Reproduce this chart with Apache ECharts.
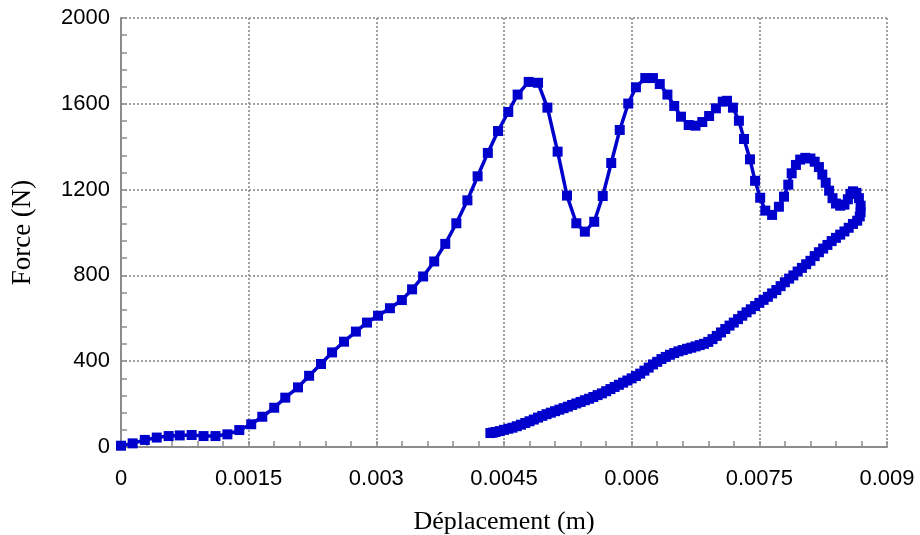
<!DOCTYPE html>
<html>
<head>
<meta charset="utf-8">
<script src="https://cdn.jsdelivr.net/npm/echarts@6/dist/echarts.min.js"></script>
<style>
html,body{margin:0;padding:0;background:#fff;}
#chart{width:920px;height:535px;}
</style>
</head>
<body>
<div id="chart"></div>
<script>
// Displacement (m) values, in drawing order
var displacement = [
  0, 0.000137, 0.00028, 0.00042, 0.00056, 0.00069, 0.00083, 0.00097, 0.00111, 0.00125,
  0.00139, 0.00153, 0.00166, 0.0018, 0.00193, 0.00208, 0.00221, 0.00235, 0.00248, 0.00262,
  0.00276, 0.00289, 0.00302, 0.00316, 0.0033, 0.00342, 0.00355, 0.00368, 0.00381, 0.00394,
  0.00407, 0.00419, 0.00431, 0.00443, 0.00455, 0.00466, 0.00479, 0.0049, 0.00501, 0.00513,
  0.00524, 0.00535, 0.00545, 0.00556, 0.00566, 0.00576, 0.00586, 0.00596, 0.00605, 0.00616,
  0.00625, 0.00633, 0.00642, 0.0065, 0.00658, 0.00667, 0.00675, 0.00683, 0.00691, 0.00699,
  0.00707, 0.00712, 0.00719, 0.00726, 0.00732, 0.00739, 0.00745, 0.00751, 0.00757, 0.00765,
  0.00773, 0.00779, 0.00784, 0.00788, 0.00793, 0.00798, 0.00804, 0.0081, 0.00815, 0.0082,
  0.00824, 0.00828, 0.00832, 0.00836, 0.0084, 0.00845, 0.0085, 0.00854, 0.00857, 0.0086,
  0.00864, 0.00867, 0.00869, 0.00869, 0.00868,
  0.00865, 0.0086, 0.00855, 0.0085, 0.00845, 0.0084, 0.00835, 0.0083, 0.00825, 0.0082,
  0.00815, 0.0081, 0.00805, 0.008, 0.00795, 0.0079, 0.00785, 0.0078, 0.00775, 0.0077,
  0.00765, 0.0076, 0.00755, 0.0075, 0.00745, 0.0074, 0.00735, 0.0073, 0.00725, 0.0072,
  0.00715, 0.0071, 0.00705, 0.007, 0.00695, 0.0069, 0.00685, 0.0068, 0.00675, 0.0067,
  0.00665, 0.0066, 0.00655, 0.0065, 0.00645, 0.0064, 0.00635, 0.0063, 0.00625, 0.0062,
  0.00615, 0.0061, 0.00605, 0.006, 0.00595, 0.0059, 0.00585, 0.0058, 0.00575, 0.0057,
  0.00565, 0.0056, 0.00555, 0.0055, 0.00545, 0.0054, 0.00535, 0.0053, 0.00525, 0.0052,
  0.00515, 0.0051, 0.00505, 0.005, 0.00495, 0.0049, 0.00485, 0.0048, 0.00475, 0.0047,
  0.00465, 0.0046, 0.00455, 0.0045, 0.00445, 0.0044, 0.00437, 0.00434
];
// Force (N) values, same order
var force = [
  6, 17, 33, 44, 51, 54, 56, 51, 51, 59,
  79, 106, 141, 183, 230, 278, 332, 387, 441, 491,
  538, 580, 612, 647, 685, 735, 795, 865, 947, 1043,
  1150, 1262, 1371, 1473, 1562, 1643, 1702, 1698, 1582, 1377,
  1172, 1043, 1004, 1050, 1170, 1324, 1478, 1601, 1677, 1720,
  1720, 1692, 1643, 1590, 1540, 1501, 1498, 1515, 1543, 1579,
  1610, 1614, 1582, 1521, 1436, 1341, 1241, 1162, 1102, 1082,
  1120, 1167, 1223, 1276, 1315, 1340, 1348, 1345, 1330, 1305,
  1270, 1232, 1195, 1160, 1135, 1125, 1130, 1155, 1180, 1192,
  1185, 1160, 1125, 1095, 1075,
  1055, 1040, 1022, 1005, 990, 975, 960, 942, 925, 908,
  890, 868, 852, 835, 818, 800, 785, 768, 750, 732,
  716, 700, 686, 672, 657, 642, 628, 612, 596, 580,
  566, 550, 534, 518, 503, 490, 481, 475, 469, 463,
  458, 452, 446, 438, 430, 420, 410, 397, 385, 370,
  356, 342, 331, 320, 310, 300, 290, 280, 270, 260,
  250, 242, 233, 225, 218, 210, 203, 196, 188, 181,
  174, 167, 160, 153, 145, 137, 128, 120, 112, 104,
  97, 90, 85, 80, 74, 70, 67, 65
];
var xTickLabels = ['0', '0.0015', '0.003', '0.0045', '0.006', '0.0075', '0.009'];
var yTickLabels = ['0', '400', '800', '1200', '1600', '2000'];
var xTitle = 'Déplacement (m)';
var yTitle = 'Force (N)';

var points = displacement.map(function (d, i) { return [d, force[i]]; });

var chart = echarts.init(document.getElementById('chart'), null, {renderer: 'canvas'});
var axisCommon = {
  axisLine: {show: true, lineStyle: {color: '#8c8c8c', width: 2}},
  axisTick: {show: true, inside: true, length: 6, lineStyle: {color: '#8c8c8c', width: 1.5}},
  minorTick: {show: true, splitNumber: 5, length: 6, lineStyle: {color: '#8c8c8c', width: 1.5}},
  splitLine: {show: true, lineStyle: {color: '#a0a0a0', type: 'dotted', width: 2}},
  axisLabel: {color: '#000', fontFamily: 'Liberation Sans', fontSize: 22}
};
chart.setOption({
  animation: false,
  backgroundColor: '#fff',
  grid: {left: 121, right: 33, top: 18, bottom: 88, containLabel: false, outerBoundsMode: 'none'},
  xAxis: Object.assign({}, axisCommon, {
    type: 'value', min: 0, max: 0.009, interval: 0.0015,
    name: xTitle, nameLocation: 'middle', nameGap: 62,
    nameTextStyle: {fontFamily: 'Liberation Serif', fontSize: 26, color: '#000'},
    axisLabel: Object.assign({}, axisCommon.axisLabel, {
      margin: 21,
      formatter: function (v) { return xTickLabels[Math.round(v / 0.0015)]; }
    })
  }),
  yAxis: Object.assign({}, axisCommon, {
    type: 'value', min: 0, max: 2000, interval: 400,
    name: yTitle, nameLocation: 'middle', nameGap: 85,
    nameTextStyle: {fontFamily: 'Liberation Serif', fontSize: 27, color: '#000'},
    axisLabel: Object.assign({}, axisCommon.axisLabel, {
      margin: 11,
      formatter: function (v) { return yTickLabels[Math.round(v / 400)]; }
    })
  }),
  series: [{
    type: 'line',
    data: points,
    symbol: 'rect',
    symbolSize: 10,
    showSymbol: true,
    lineStyle: {color: '#0000CC', width: 3.5},
    itemStyle: {color: '#0000CC'},
    clip: false
  }]
});
</script>
</body>
</html>
